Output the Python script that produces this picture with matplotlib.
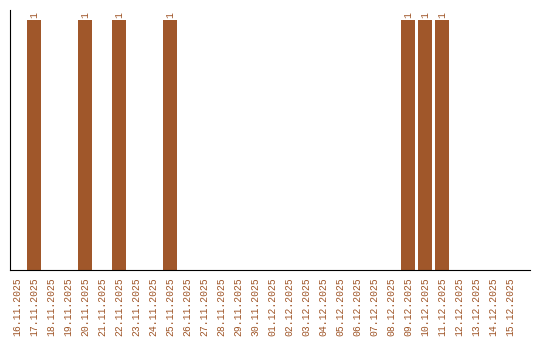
import matplotlib.pyplot as plt
import pandas as pd

# daty i wartości
dates = pd.date_range("2025-11-16", "2025-12-15", freq="D")
labels = [d.strftime("%d.%m.%Y") for d in dates]
hit_days = ["17.11.2025", "20.11.2025", "22.11.2025", "25.11.2025",
            "09.12.2025", "10.12.2025", "11.12.2025"]
values = [1 if l in hit_days else 0 for l in labels]

color = "#a0572a"
mono = "Liberation Mono"

fig = plt.figure(figsize=(5.4, 3.4), dpi=100)
ax = fig.add_axes([10/540, 70/340, 520/540, 260/340])

x = list(range(len(labels)))
ax.bar(x, values, width=0.82, color=color)
for xi, v in zip(x, values):
    if v > 0:
        ax.text(xi, v + 0.01, str(v), rotation=90, ha="center", va="bottom",
                color=color, fontsize=7, family=mono)

ax.set_xlim(-0.41, 30.18)
ax.set_ylim(0, 1.04)
ax.set_xticks(x)
ax.set_xticklabels(labels, rotation=90, color=color, fontsize=7, family=mono)
ax.tick_params(axis="x", length=0, pad=5)
ax.set_yticks([])
ax.spines["top"].set_visible(False)
ax.spines["right"].set_visible(False)

plt.savefig("out.png", dpi=100)
